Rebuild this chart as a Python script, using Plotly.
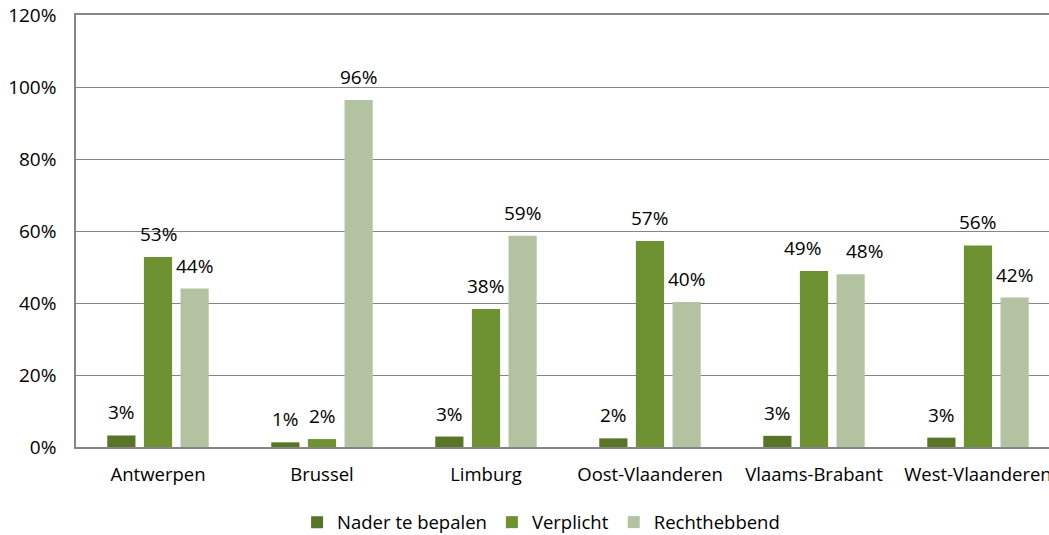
import plotly.graph_objects as go

categories = ["Antwerpen", "Brussel", "Limburg", "Oost-Vlaanderen", "Vlaams-Brabant", "West-Vlaanderen"]
nader = [3.2, 1.3, 2.9, 2.4, 3.1, 2.6]
verplicht = [52.8, 2.2, 38.3, 57.2, 48.9, 56.0]
recht = [44.0, 96.4, 58.7, 40.3, 48.0, 41.5]
nader_lbl = ["3%", "1%", "3%", "2%", "3%", "3%"]
verplicht_lbl = ["53%", "2%", "38%", "57%", "49%", "56%"]
recht_lbl = ["44%", "96%", "59%", "40%", "48%", "42%"]

# horizontal nudges of data labels (px) to avoid overlaps, as in the original
nudges = [
    [0, 0, 0, 0, 0, 0],
    [0, 0, 0, 0, -11, 0],
    [0, 0, 0, 0, 14, 0],
]

series = [
    ("Nader te bepalen", nader, nader_lbl, "#587527"),
    ("Verplicht", verplicht, verplicht_lbl, "#6e9231"),
    ("Rechthebbend", recht, recht_lbl, "#b3c3a2"),
]

FONT = "'Open Sans', sans-serif"
FS = 18.5
FN = 19
fig = go.Figure()
for i, (name, vals, lbls, col) in enumerate(series):
    fig.add_trace(go.Bar(
        name=name, x=categories, y=vals, marker=dict(color=col, line=dict(width=0)),
        offsetgroup=str(i),
    ))

slot = 1 - 0.33
off = slot / 3
for i, (name, vals, lbls, col) in enumerate(series):
    for j, (v, t) in enumerate(zip(vals, lbls)):
        fig.add_annotation(
            x=j + (i - 1) * off, y=v, text=t, showarrow=False,
            yanchor="middle", yshift=23, xshift=nudges[i][j], xref="x", yref="y",
            font=dict(family=FONT, size=FN, color="#000000"),
        )

fig.update_layout(
    width=1049, height=535,
    margin=dict(l=76, r=0, t=15, b=88, autoexpand=False),
    paper_bgcolor="white", plot_bgcolor="white",
    barmode="group", bargap=0.33, bargroupgap=0.23,
    font=dict(family=FONT, size=FS, color="#000000"),
    showlegend=True,
    legend=dict(orientation="h", x=0.478, xanchor="center", y=-0.175, yanchor="middle",
                font=dict(family=FONT, size=FS), itemwidth=30, traceorder="normal"),
)
fig.update_xaxes(
    type="category", range=[-0.5, 5.433], showgrid=False, automargin=False,
    showline=True, linecolor="#868686", linewidth=1.5, mirror=True,
    ticks="", ticklabelstandoff=10, tickfont=dict(family=FONT, size=FS),
)
fig.update_yaxes(
    range=[0, 120], dtick=20, ticksuffix="%", showgrid=True, gridcolor="#868686", gridwidth=1.2,
    showline=True, linecolor="#868686", linewidth=1.5, zeroline=False, automargin=False,
    ticks="", ticklabelstandoff=14, tickfont=dict(family=FONT, size=FN),
)
fig.write_html("out.html", config={"displayModeBar": False},
               post_script="document.body.style.margin='0';document.body.style.overflow='hidden';")
